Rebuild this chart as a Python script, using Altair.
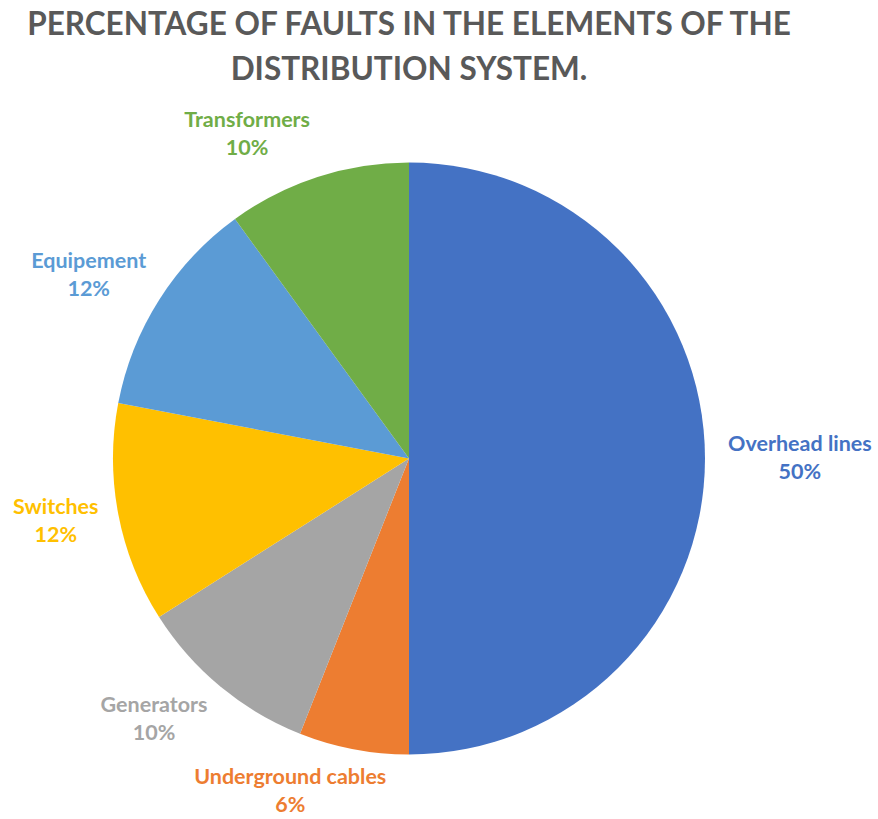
import altair as alt
import pandas as pd

elements = ["Overhead lines", "Underground cables", "Generators", "Switches", "Equipement", "Transformers"]
values = [50, 6, 10, 12, 12, 10]
colors = ["#4472C4", "#ED7D31", "#A5A5A5", "#FFC000", "#5B9BD5", "#70AD47"]
title_lines = ["PERCENTAGE OF FAULTS IN THE ELEMENTS OF THE", "DISTRIBUTION SYSTEM."]

df = pd.DataFrame({"Element": elements, "value": values, "idx": list(range(len(elements)))})

CX, CY, R = 409, 368.5, 296
LR = 316  # label anchor radius

color = alt.Color("Element:N", scale=alt.Scale(domain=elements, range=colors), legend=None)

base = alt.Chart(df)

pie = base.mark_arc(outerRadius=R, strokeWidth=0).encode(
    theta=alt.Theta("value:Q", stack=True),
    color=color,
    order=alt.Order("idx:Q"),
    x=alt.value(CX),
    y=alt.value(CY),
)

lab = base.transform_joinaggregate(
    total="sum(value)"
).transform_window(
    cum="sum(value)", sort=[alt.SortField("idx")], frame=[None, 0]
).transform_calculate(
    mid="(datum.cum - datum.value/2)/datum.total*2*PI",
).transform_calculate(
    s="sin(datum.mid)", c="cos(datum.mid)"
).transform_calculate(
    ax=f"{CX} + {LR}*datum.s",
    ay=f"{CY} - {LR}*datum.c",
    hw="length(datum.Element)*5.35",
    pct="datum.value + '%'",
).transform_calculate(
    lx="datum.ax + (datum.s < 0 ? -1 : 1)*datum.hw*min(1, 3.3*abs(datum.s))",
    ly="datum.ay - 24*datum.c",
)

txt_common = dict(font="Lato", fontWeight="bold", fontSize=21.5, align="center", baseline="middle")

names = lab.mark_text(dy=-14, **txt_common).encode(
    x=alt.X("lx:Q", scale=None, axis=None),
    y=alt.Y("ly:Q", scale=None, axis=None),
    text="Element:N",
    color=color,
)
pcts = lab.mark_text(dy=14, **txt_common).encode(
    x=alt.X("lx:Q", scale=None, axis=None),
    y=alt.Y("ly:Q", scale=None, axis=None),
    text="pct:N",
    color=color,
)

chart = alt.layer(pie, names, pcts).properties(
    width=818,
    height=729,
    padding={"left": 0, "top": 90, "right": 60, "bottom": 0},
    autosize="none",
    background="white",
    title=alt.TitleParams(
        text=title_lines,
        font="Lato",
        fontSize=31.5,
        fontWeight="bold",
        color="#595959",
        lineHeight=45,
        anchor="middle",
        offset=4,
    ),
).configure_view(stroke="transparent", strokeWidth=0)

chart.save("out.html", embed_options={"renderer": "svg", "actions": False})
